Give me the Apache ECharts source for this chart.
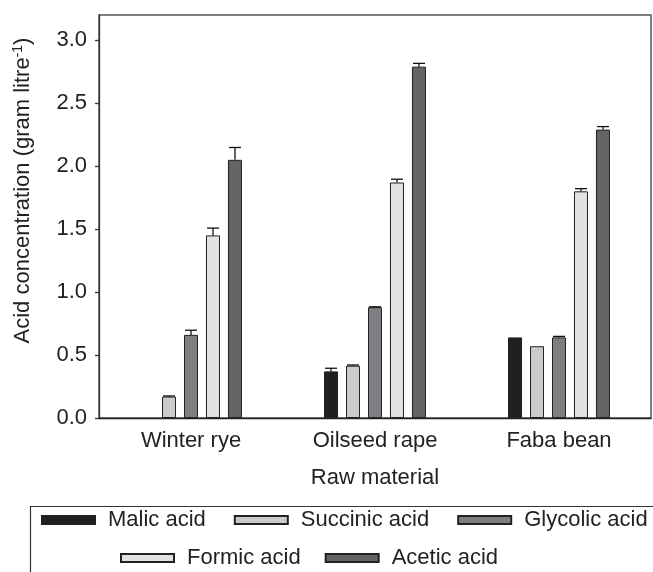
<!DOCTYPE html>
<html>
<head>
<meta charset="utf-8">
<script src="https://cdn.jsdelivr.net/npm/echarts@6/dist/echarts.min.js"></script>
<style>
  html, body { margin: 0; padding: 0; background: #fff; }
  #chart { width: 653px; height: 572px; }
</style>
</head>
<body>
<div id="chart"></div>
<script>
const categories = ['Winter rye', 'Oilseed rape', 'Faba bean']
const acids = ['Malic acid', 'Succinic acid', 'Glycolic acid', 'Formic acid', 'Acetic acid']

// mean values (gram litre-1), one array per acid, in category order
const malic = [null, 0.37, 0.64]
const succinic = [0.17, 0.415, 0.57]
const glycolic = [0.66, 0.88, 0.64]
const formic = [1.45, 1.87, 1.80]
const acetic = [2.05, 2.79, 2.29]

// upper error (standard error), same order
const malicErr = [null, 0.025, 0]
const succinicErr = [0.005, 0.006, 0]
const glycolicErr = [0.037, 0.003, 0.008]
const formicErr = [0.058, 0.026, 0.021]
const aceticErr = [0.098, 0.026, 0.024]

const yTicks = [0, 0.5, 1.0, 1.5, 2.0, 2.5, 3.0]

const values = [malic, succinic, glycolic, formic, acetic]
const errors = [malicErr, succinicErr, glycolicErr, formicErr, aceticErr]
const colors = ['#231f20', '#c9cacc', '#7e7f83', '#e1e2e4', '#636466']

const BAR_W = 14
const BAR_PITCH = 22
const FONT = 'Liberation Sans, Arial, Helvetica, sans-serif'
const FS = 22

const chart = echarts.init(document.getElementById('chart'))

const barSeries = acids.map((name, i) => ({
  name,
  type: 'bar',
  barWidth: BAR_W,
  barGap: ((BAR_PITCH - BAR_W) / BAR_W * 100).toFixed(0) + '%',
  itemStyle: { color: colors[i], borderColor: '#222', borderWidth: 1 },
  data: values[i],
}))

// error bars (upper only) drawn over each bar
const errSeries = acids.map((name, i) => ({
  type: 'custom',
  z: 5,
  silent: true,
  data: values[i].map((v, k) => [k, v, errors[i][k]]),
  renderItem: (params, api) => {
    const v = api.value(1)
    const e = api.value(2)
    if (v == null || isNaN(v) || !e) return
    const base = api.coord([api.value(0), v])
    const top = api.coord([api.value(0), v + e])
    const x = base[0] + (i - 2) * BAR_PITCH
    const half = BAR_W / 2 - 1
    const style = { stroke: '#111', lineWidth: 1.3 }
    return {
      type: 'group',
      children: [
        { type: 'line', shape: { x1: x, y1: base[1], x2: x, y2: top[1] }, style },
        { type: 'line', shape: { x1: x - half, y1: top[1], x2: x + half, y2: top[1] }, style },
      ],
    }
  },
}))

const legendText = { fontFamily: FONT, fontSize: FS, color: '#222', padding: [0, 0, 0, 8] }

const option = {
  animation: false,
  textStyle: { fontFamily: FONT },
  grid: {
    left: 99,
    right: 2,
    top: 15,
    bottom: 154,
    show: true,
    borderColor: '#555',
    borderWidth: 1.5,
  },
  legend: [
    {
      data: acids.slice(0, 3),
      left: 41,
      top: 509,
      width: 650,
      padding: 0,
      icon: 'rect',
      itemWidth: 53,
      itemHeight: 8,
      itemGap: 28,
      textStyle: legendText,
    },
    {
      data: acids.slice(3),
      left: 120,
      top: 547,
      width: 600,
      padding: 0,
      icon: 'rect',
      itemWidth: 53,
      itemHeight: 8,
      itemGap: 24,
      textStyle: legendText,
    },
  ],
  graphic: [
    {
      type: 'rect',
      left: 28,
      top: 504,
      shape: { width: 700, height: 120 },
      style: { fill: 'none', stroke: '#333', lineWidth: 1.2 },
      silent: true,
    },
  ],
  xAxis: {
    type: 'category',
    data: categories,
    name: 'Raw material',
    nameLocation: 'middle',
    nameGap: 49,
    nameTextStyle: { fontSize: FS, color: '#222' },
    axisLine: { lineStyle: { color: '#222', width: 1.3 } },
    axisTick: { alignWithLabel: true, length: 6, lineStyle: { color: '#222', width: 1.3 } },
    axisLabel: { fontSize: FS, color: '#222', margin: 12 },
  },
  yAxis: {
    type: 'value',
    min: 0,
    max: 3.2,
    name: '{a|Acid concentration (gram litre}{s|-1}{a|)}',
    nameLocation: 'middle',
    nameGap: 64,
    nameTextStyle: {
      padding: [0, 0, 0, 52],
      rich: {
        a: { fontSize: FS, color: '#222', fontFamily: FONT },
        s: { fontSize: 14, color: '#222', fontFamily: FONT, verticalAlign: 'top', padding: [0, 0, 10, 0] },
      },
    },
    splitLine: { show: false },
    axisLine: { show: true, lineStyle: { color: '#333', width: 1.3 } },
    axisTick: { show: true, length: 4, customValues: yTicks, lineStyle: { color: '#333', width: 1.3 } },
    axisLabel: {
      fontSize: FS,
      color: '#222',
      margin: 12,
      customValues: yTicks,
      formatter: (v) => v.toFixed(1),
    },
  },
  series: [...barSeries, ...errSeries],
}

chart.setOption(option)
</script>
</body>
</html>
